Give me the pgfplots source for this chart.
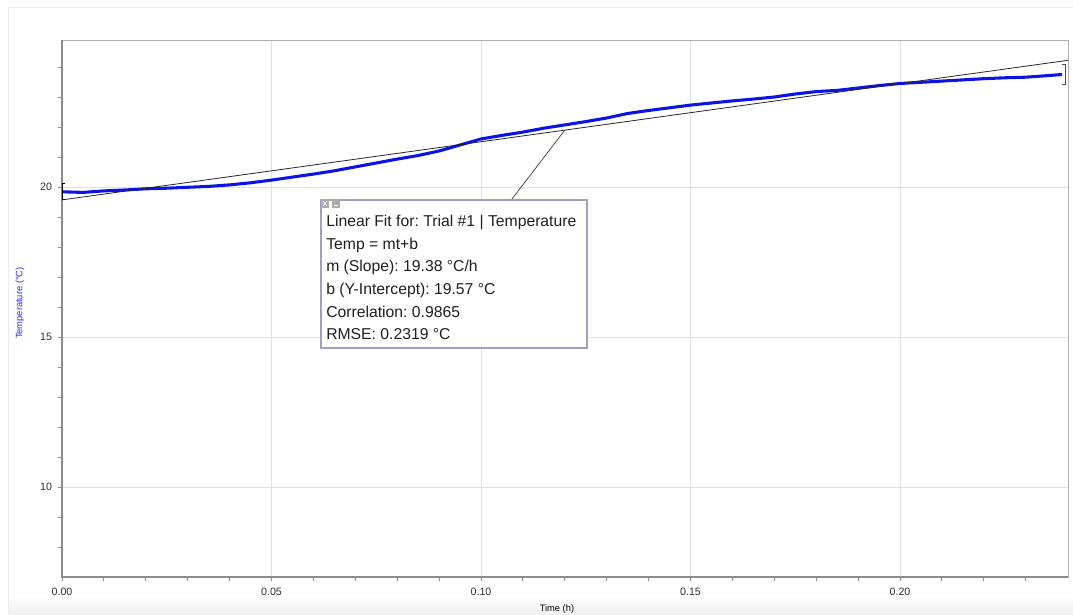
\documentclass[border=0pt]{standalone}
\usepackage{fontspec}
\setmainfont{Liberation Sans}
\usepackage{pgfplots}
\usepackage{pgfplotstable}
\pgfplotsset{compat=1.18}
\frenchspacing

\definecolor{TempBlue}{RGB}{12,20,228}
\definecolor{AxisGrey}{RGB}{140,140,140}
\definecolor{GridGrey}{RGB}{224,224,224}
\definecolor{BoxEdge}{RGB}{160,160,196}
\definecolor{LabelBlue}{RGB}{40,40,215}
\definecolor{TickText}{RGB}{45,45,45}

% temperature run
\pgfplotstableread{
t      temp
0.000  19.84
0.005  19.82
0.010  19.87
0.015  19.90
0.020  19.94
0.025  19.96
0.030  19.99
0.035  20.02
0.040  20.07
0.045  20.14
0.050  20.23
0.055  20.33
0.060  20.43
0.065  20.54
0.070  20.67
0.075  20.80
0.080  20.93
0.085  21.05
0.090  21.20
0.095  21.40
0.100  21.60
0.105  21.72
0.110  21.83
0.115  21.96
0.120  22.07
0.125  22.18
0.130  22.30
0.135  22.45
0.140  22.55
0.145  22.64
0.150  22.73
0.155  22.80
0.160  22.87
0.165  22.93
0.170  23.00
0.175  23.10
0.180  23.18
0.185  23.22
0.190  23.30
0.195  23.38
0.200  23.45
0.205  23.49
0.210  23.53
0.215  23.57
0.220  23.61
0.225  23.64
0.230  23.66
0.235  23.71
0.2387 23.75
}\tempdata

\begin{document}
\begin{tikzpicture}[x=0.75pt,y=0.75pt]
\path[use as bounding box] (0,0) rectangle (1073,614);
\shade[top color=white,bottom color=gray!12] (8,0) rectangle (1073,18);
\draw[gray!15] (8,0) -- (8,607) -- (1073,607);

\begin{axis}[
    at={(46.5pt,27.75pt)}, anchor=south west,
    scale only axis,
    width=754.5pt, height=402.75pt,
    xmin=0, xmax=0.2401,
    ymin=7, ymax=24.9,
    clip=false,
    tick pos=left,
    tick align=outside,
    major tick length=3pt,
    minor tick length=3pt,
    xtick={0,0.05,0.10,0.15,0.20},
    minor xtick={0.01,0.02,0.03,0.04,0.06,0.07,0.08,0.09,0.11,0.12,0.13,0.14,0.16,0.17,0.18,0.19,0.21,0.22,0.23},
    ytick={10,15,20},
    minor ytick={8,9,11,12,13,14,16,17,18,19,21,22,23,24},
    scaled x ticks=false,
    /pgf/number format/assume math mode=true,
    tick label style={font=\fontsize{8}{9.6}\selectfont, color=TickText},
    xticklabel style={yshift=-2pt, /pgf/number format/fixed, /pgf/number format/fixed zerofill, /pgf/number format/precision=2},
    yticklabel style={xshift=-1pt},
    tick style={AxisGrey, line width=0.6pt},
    grid=major,
    major grid style={GridGrey, line width=0.6pt},
    axis line style={AxisGrey!70, line width=0.6pt},
    xlabel={Time (h)},
    xlabel style={font=\fontsize{7}{8}\selectfont, at={(axis description cs:0.492,0)}, anchor=center, yshift=-24pt},
    ylabel={Temperature (°C)},
    ylabel style={font=\fontsize{7}{8}\selectfont, color=LabelBlue, at={(axis description cs:0,0.51)}, anchor=center, yshift=31.5pt},
]
\draw[AxisGrey, line width=1.4pt] (rel axis cs:0,1) -- (rel axis cs:0,0) -- (rel axis cs:1,0);

\addplot[TempBlue, line width=2.3pt, line join=round] table[x=t, y=temp] {\tempdata};
\addplot[black!85, line width=0.6pt] coordinates {(0,19.57) (0.2401,24.223)};

% selection brackets
\draw[black, line width=0.8pt] (axis cs:0.0008,20.13) -- (axis cs:0.0002,20.13) -- (axis cs:0.0002,19.57) -- (axis cs:0.0008,19.57);
\draw[black!70, line width=0.8pt] (axis cs:0.2386,24.07) -- (axis cs:0.2394,24.07) -- (axis cs:0.2394,23.43) -- (axis cs:0.2386,23.43);

\coordinate (fitpt) at (axis cs:0.12,21.896);
\end{axis}

% fit annotation box
\draw[black!80, line width=0.5pt] (fitpt) -- (512,415);
\draw[BoxEdge, fill=white, line width=0.8pt] (321,414) rectangle (587,266);
\fill[gray!65] (321,415) rectangle (329,406);
\fill[gray!65] (332,415) rectangle (340,406);
\draw[white, line width=0.5pt] (323,413) -- (327,408) (323,408) -- (327,413);
\draw[white, line width=0.6pt] (334,408.5) -- (338,408.5);

\begin{scope}[every node/.style={anchor=base west, inner sep=0pt, font=\fontsize{11.8}{14}\selectfont, text=black!88}]
\node at (326,387.3) {Linear Fit for: Trial \#1 | Temperature};
\node at (326,364.6) {Temp = mt+b};
\node at (326,342.0) {m (Slope): 19.38 °C/h};
\node at (326,319.3) {b (Y-Intercept): 19.57 °C};
\node at (326,296.7) {Correlation: 0.9865};
\node at (326,274.0) {RMSE: 0.2319 °C};
\end{scope}
\end{tikzpicture}
\end{document}
